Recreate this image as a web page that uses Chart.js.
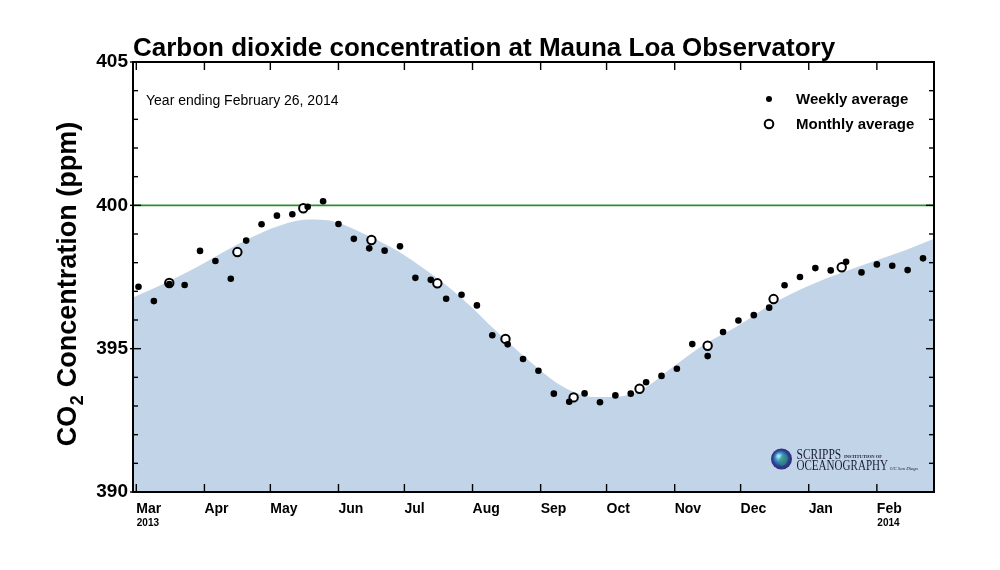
<!DOCTYPE html>
<html>
<head>
<meta charset="utf-8">
<script src="https://cdn.jsdelivr.net/npm/chart.js@4.4.1/dist/chart.umd.min.js"></script>
<style>
html,body{margin:0;padding:0;background:#ffffff;}
#wrap{width:1000px;height:570px;position:relative;}
</style>
</head>
<body>
<div id="wrap"><canvas id="c" width="1000" height="570"></canvas></div>
<script>
// ---------------- DATA ----------------
const weeklyDates = [
  '2013-03-02','2013-03-09','2013-03-16','2013-03-23','2013-03-30','2013-04-06','2013-04-13','2013-04-20','2013-04-27',
  '2013-05-04','2013-05-11','2013-05-18','2013-05-25','2013-06-01','2013-06-08','2013-06-15','2013-06-22','2013-06-29',
  '2013-07-06','2013-07-13','2013-07-20','2013-07-27','2013-08-03','2013-08-10','2013-08-17','2013-08-24','2013-08-31',
  '2013-09-07','2013-09-14','2013-09-21','2013-09-28','2013-10-05','2013-10-12','2013-10-19','2013-10-26','2013-11-02',
  '2013-11-09','2013-11-16','2013-11-23','2013-11-30','2013-12-07','2013-12-14','2013-12-21','2013-12-28','2014-01-04',
  '2014-01-11','2014-01-18','2014-01-25','2014-02-01','2014-02-08','2014-02-15','2014-02-22'
];
const weeklyValues = [
  397.16,396.66,397.25,397.22,398.41,398.06,397.44,398.77,399.34,
  399.64,399.69,399.95,400.14,399.35,398.83,398.50,398.42,398.57,
  397.47,397.40,396.74,396.88,396.51,395.47,395.15,394.64,394.23,
  393.43,393.15,393.44,393.13,393.37,393.43,393.83,394.05,394.30,
  395.16,394.74,395.58,395.98,396.17,396.43,397.21,397.50,397.81,
  397.73,398.03,397.66,397.94,397.89,397.74,398.15
];
const monthlyDates = ['2013-03-16','2013-04-16','2013-05-16','2013-06-16','2013-07-16','2013-08-16',
  '2013-09-16','2013-10-16','2013-11-16','2013-12-16','2014-01-16'];
const monthlyValues = [397.29,398.37,399.90,398.79,397.28,395.34,393.30,393.60,395.10,396.73,397.84];

const curveDates = ['2013-02-27','2013-03-13','2013-03-28','2013-04-12','2013-04-28','2013-05-13','2013-05-19',
  '2013-05-28','2013-06-12','2013-06-27','2013-07-13','2013-07-28','2013-08-12','2013-08-27','2013-09-11',
  '2013-09-26','2013-10-08','2013-10-19','2013-10-31','2013-11-15','2013-11-30','2013-12-15','2013-12-31',
  '2014-01-15','2014-01-30','2014-02-14','2014-02-27'];
const curveValues = [396.77,397.25,397.82,398.47,399.08,399.46,399.51,
  399.47,399.03,398.45,397.62,396.70,395.60,394.56,393.68,
  393.31,393.34,393.66,394.35,395.17,395.81,396.55,397.16,
  397.62,398.03,398.43,398.83];

const referenceLevel = 400;
const monthTickDates = ['2013-03-01','2013-04-01','2013-05-01','2013-06-01','2013-07-01','2013-08-01',
  '2013-09-01','2013-10-01','2013-11-01','2013-12-01','2014-01-01','2014-02-01'];
const monthTickLabels = ['Mar','Apr','May','Jun','Jul','Aug','Sep','Oct','Nov','Dec','Jan','Feb'];
const yearTickDates = ['2013-03-01','2014-02-01'];
const yearTickLabels = ['2013','2014'];
const yTickValues = [390,395,400,405];
const yMin = 390, yMax = 405;
const xMinDay = -1.5, xMaxDay = 363;

// ---------------- HELPERS ----------------
const EPOCH = Date.UTC(2013,2,1);
function day(s){ return (Date.UTC(+s.slice(0,4), +s.slice(5,7)-1, +s.slice(8,10)) - EPOCH)/864e5; }
const pts = (ds, vs) => ds.map((d,i)=>({x:day(d), y:vs[i]}));

const FONT = "'Liberation Sans', Arial, Helvetica, sans-serif";
Chart.defaults.font.family = FONT;
Chart.defaults.color = '#000';

const decor = {
  id:'decor',
  afterDatasetsDraw(chart){
    const {ctx, chartArea:a, scales:{x, y}} = chart;
    const line=(x1,y1,x2,y2)=>{ctx.beginPath();ctx.moveTo(x1,y1);ctx.lineTo(x2,y2);ctx.stroke();};
    ctx.save();
    ctx.strokeStyle='#000';
    // ticks on y (left & right)
    ctx.lineWidth=1.4;
    for(let v=yMin; v<=yMax; v++){
      const py = y.getPixelForValue(v);
      const major = yTickValues.includes(v);
      line(a.left-(major?3:0), py, a.left+(major?8:5), py);
      line(a.right-(major?8:5), py, a.right, py);
    }
    // month ticks (bottom & top)
    monthTickDates.forEach(d=>{
      const px = x.getPixelForValue(day(d));
      line(px, a.bottom, px, a.bottom-8);
      line(px, a.top, px, a.top+8);
    });
    // frame
    ctx.lineWidth=2;
    ctx.strokeRect(a.left, a.top, a.right-a.left, a.bottom-a.top);

    // year labels
    ctx.fillStyle='#000';
    ctx.font='bold 10px '+FONT;
    ctx.textAlign='left'; ctx.textBaseline='alphabetic';
    yearTickDates.forEach((d,i)=>{
      ctx.fillText(yearTickLabels[i], x.getPixelForValue(day(d))+0.5, a.bottom+33.5);
    });

    // y axis title with subscript
    ctx.save();
    ctx.translate(76, (a.top+a.bottom)/2+7);
    ctx.rotate(-Math.PI/2);
    const f1='bold 27px '+FONT, f2='bold 18px '+FONT;
    ctx.font=f1; const w1=ctx.measureText('CO').width;
    const w3=ctx.measureText(' Concentration (ppm)').width;
    ctx.font=f2; const w2=ctx.measureText('2').width+1;
    let sx = -(w1+w2+w3)/2;
    ctx.font=f1; ctx.fillText('CO', sx, 0);
    ctx.font=f2; ctx.fillText('2', sx+w1+0.5, 7);
    ctx.font=f1; ctx.fillText(' Concentration (ppm)', sx+w1+w2, 0);
    ctx.restore();

    // annotation
    ctx.font='14px '+FONT;
    ctx.fillText('Year ending February 26, 2014', a.left+13, 105.3);

    // legend
    const lx = a.right-165;
    ctx.beginPath(); ctx.arc(lx, 99, 3, 0, Math.PI*2); ctx.fill();
    ctx.lineWidth=2;
    ctx.beginPath(); ctx.arc(lx, 124, 4.3, 0, Math.PI*2); ctx.fillStyle='#fff'; ctx.fill(); ctx.stroke();
    ctx.fillStyle='#000';
    ctx.font='bold 15px '+FONT;
    ctx.fillText('Weekly average', lx+27, 104.3);
    ctx.fillText('Monthly average', lx+27, 129.3);

    // logo
    const gx = 781.5, gy = 459;
    const g = ctx.createRadialGradient(gx-3, gy-3, 1, gx, gy, 10.5);
    g.addColorStop(0,'#9fe3f0'); g.addColorStop(0.35,'#3d8fc6'); g.addColorStop(0.75,'#28408f'); g.addColorStop(1,'#3a2a78');
    ctx.fillStyle=g; ctx.beginPath(); ctx.arc(gx, gy, 10.5, 0, Math.PI*2); ctx.fill();
    ctx.fillStyle='#2f9a6a'; ctx.globalAlpha=0.55;
    ctx.beginPath(); ctx.ellipse(gx+2, gy+1, 4, 6, 0.4, 0, Math.PI*2); ctx.fill();
    ctx.globalAlpha=1;
    ctx.fillStyle='#1b1b35';
    ctx.save(); ctx.translate(796.5, 459); ctx.scale(0.82,1);
    ctx.font="14px 'Liberation Serif', 'Times New Roman', serif"; ctx.fillText('SCRIPPS',0,0);
    ctx.restore();
    ctx.save(); ctx.translate(796.5, 469.5); ctx.scale(0.79,1);
    ctx.font="14px 'Liberation Serif', 'Times New Roman', serif"; ctx.fillText('OCEANOGRAPHY',0,0);
    ctx.restore();
    ctx.font="bold 4.6px 'Liberation Serif', serif"; ctx.fillText('INSTITUTION OF', 844, 457.5);
    ctx.font="italic 4.8px 'Liberation Serif', serif"; ctx.fillText('UC San Diego', 890, 469.5);
    ctx.restore();
  }
};

new Chart(document.getElementById('c'), {
  type:'scatter',
  data:{
    datasets:[
      { label:'Weekly average', data:pts(weeklyDates, weeklyValues), backgroundColor:'#000', borderWidth:0,
        pointRadius:3.3, pointHoverRadius:3.3, order:0 },
      { label:'Monthly average', data:pts(monthlyDates, monthlyValues), backgroundColor:'#fff', borderColor:'#000',
        borderWidth:2, pointRadius:4.2, pointHoverRadius:4.2, order:1 },
      { type:'line', label:'400 ppm', data:[{x:xMinDay,y:referenceLevel},{x:xMaxDay,y:referenceLevel}],
        borderColor:'#2e8b37', borderWidth:1.8, pointRadius:0, showLine:true, fill:false, order:2 },
      { type:'line', label:'Seasonal curve', data:pts(curveDates, curveValues), borderWidth:0, borderColor:'rgba(0,0,0,0)',
        backgroundColor:'rgb(194,212,232)', fill:'start', pointRadius:0, showLine:true,
        cubicInterpolationMode:'monotone', order:3 }
    ]
  },
  options:{
    responsive:false,
    animation:false,
    layout:{padding:{left:0,right:66,top:0,bottom:0}},
    plugins:{
      legend:{display:false},
      tooltip:{enabled:false},
      title:{display:true, text:'Carbon dioxide concentration at Mauna Loa Observatory', align:'start', fullSize:false,
        color:'#000', font:{size:26, weight:'bold', lineHeight:1.0}, padding:{top:36, bottom:0}}
    },
    scales:{
      x:{ type:'linear', position:'bottom', min:xMinDay, max:xMaxDay,
        grid:{display:false, drawTicks:false}, border:{display:false},
        afterBuildTicks:(s)=>{ s.ticks = monthTickDates.map(d=>({value:day(d)})); },
        afterFit:(s)=>{ s.height = 78; },
        ticks:{ callback:(v,i)=>monthTickLabels[i], align:'start', maxRotation:0, minRotation:0, autoSkip:false,
          padding:9, color:'#000', font:{size:14, weight:'bold'} } },
      y:{ min:yMin, max:yMax, position:'left',
        grid:{display:false, drawTicks:false}, border:{display:false},
        afterBuildTicks:(s)=>{ s.ticks = yTickValues.map(v=>({value:v})); },
        afterFit:(s)=>{ s.width = 133; },
        ticks:{ padding:5, color:'#000', font:{size:19, weight:'bold'} } }
    }
  },
  plugins:[decor]
});
</script>
</body>
</html>
